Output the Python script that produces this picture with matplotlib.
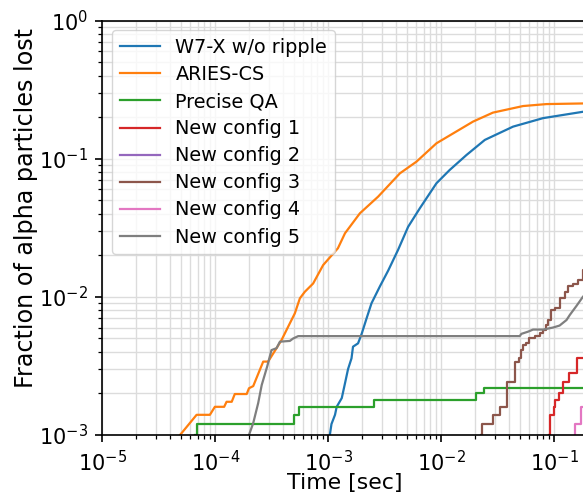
import matplotlib
matplotlib.use("Agg")
import matplotlib.pyplot as plt

# ---- data ----
labels = ["W7-X w/o ripple", "ARIES-CS", "Precise QA", "New config 1",
          "New config 2", "New config 3", "New config 4", "New config 5"]

w7x_t = [1.035e-3, 1.07e-3, 1.15e-3, 1.19e-3, 1.32e-3, 1.41e-3, 1.50e-3, 1.61e-3,
         1.66e-3, 1.84e-3, 1.98e-3, 2.19e-3, 2.42e-3, 2.87e-3, 3.40e-3, 4.16e-3,
         5.11e-3, 6.48e-3, 9.10e-3, 1.19e-2, 1.68e-2, 2.44e-2, 4.34e-2, 8.0e-2, 0.2]
w7x_f = [1.0e-3, 1.2e-3, 1.4e-3, 1.6e-3, 1.85e-3, 2.37e-3, 3.0e-3, 3.59e-3,
         4.36e-3, 4.61e-3, 5.4e-3, 7.0e-3, 8.99e-3, 1.19e-2, 1.55e-2, 2.19e-2,
         3.22e-2, 4.38e-2, 6.65e-2, 8.29e-2, 0.1066, 0.137, 0.171, 0.197, 0.222]

aries_t = [4.88e-5, 6.84e-5, 8.97e-5, 9.93e-5, 1.20e-4, 1.26e-4, 1.40e-4, 1.49e-4,
           1.90e-4, 1.99e-4, 2.17e-4, 2.66e-4, 2.94e-4, 3.49e-4, 3.87e-4, 4.58e-4,
           5.07e-4, 5.62e-4, 6.22e-4, 7.36e-4, 9.03e-4, 1.22e-3, 1.41e-3, 1.91e-3,
           2.77e-3, 4.32e-3, 6.05e-3, 9.10e-3, 1.92e-2, 2.88e-2, 5.32e-2, 8.57e-2, 0.2]
aries_f = [1.0e-3, 1.4e-3, 1.4e-3, 1.6e-3, 1.6e-3, 1.74e-3, 1.74e-3, 1.98e-3,
           1.98e-3, 2.18e-3, 2.26e-3, 3.40e-3, 3.40e-3, 4.25e-3, 4.88e-3, 6.44e-3,
           7.60e-3, 9.77e-3, 1.09e-2, 1.25e-2, 1.70e-2, 2.25e-2, 2.89e-2, 4.03e-2,
           5.32e-2, 7.85e-2, 9.53e-2, 0.1295, 0.186, 0.216, 0.241, 0.249, 0.252]

pqa_t = [6.6e-5, 6.93e-5, 4.97e-4, 5.51e-4, 2.53e-3, 2.03e-2, 2.40e-2, 0.2]
pqa_f = [1.0e-3, 1.2e-3, 1.4e-3, 1.6e-3, 1.8e-3, 2.0e-3, 2.2e-3, 2.2e-3]

new1_t = [9.04e-2, 9.2e-2, 0.099, 0.1014, 0.110, 0.120, 0.135, 0.159, 0.2]
new1_f = [1.0e-3, 1.4e-3, 1.6e-3, 1.8e-3, 2.0e-3, 2.4e-3, 2.8e-3, 3.6e-3, 3.6e-3]

new2_t = []
new2_f = []

new3_t = [2.28e-2, 2.29e-2, 2.88e-2, 3.31e-2, 3.87e-2, 4.20e-2, 4.55e-2, 4.88e-2,
          5.14e-2, 5.32e-2, 5.70e-2, 6.01e-2, 6.75e-2, 7.46e-2, 8.0e-2, 8.57e-2,
          8.85e-2, 9.48e-2, 0.1014, 0.112, 0.1245, 0.133, 0.147, 0.163, 0.18, 0.2]
new3_f = [1.0e-3, 1.2e-3, 1.4e-3, 1.6e-3, 2.4e-3, 2.4e-3, 3.4e-3, 3.6e-3,
          4.1e-3, 4.5e-3, 4.6e-3, 5.0e-3, 5.2e-3, 5.45e-3, 5.76e-3, 6.26e-3,
          6.8e-3, 8.04e-3, 8.27e-3, 9.77e-3, 1.09e-2, 1.19e-2, 1.24e-2, 1.33e-2,
          1.57e-2, 1.8e-2]

new4_t = [0.152, 0.1525, 0.172, 0.2]
new4_f = [1.0e-3, 1.2e-3, 1.6e-3, 1.6e-3]

new5_t = [1.99e-4, 2.17e-4, 2.40e-4, 2.58e-4, 2.88e-4, 3.15e-4, 3.49e-4, 3.74e-4,
          4.58e-4, 4.90e-4, 5.43e-4, 4.97e-2, 5.14e-2, 5.89e-2, 6.52e-2, 8.0e-2,
          9.80e-2, 0.112, 0.129, 0.138, 0.158, 0.18, 0.2]
new5_f = [1.0e-3, 1.22e-3, 1.70e-3, 2.30e-3, 3.12e-3, 4.12e-3, 4.25e-3, 4.74e-3,
          4.8e-3, 5.0e-3, 5.2e-3, 5.2e-3, 5.4e-3, 5.6e-3, 5.8e-3, 5.8e-3,
          6.0e-3, 6.2e-3, 6.8e-3, 7.4e-3, 8.6e-3, 1.0e-2, 1.1e-2]

colors = ["#1f77b4", "#ff7f0e", "#2ca02c", "#d62728",
          "#9467bd", "#8c564b", "#e377c2", "#7f7f7f"]

fig = plt.figure(figsize=(5.83, 4.94), dpi=100)
ax = fig.add_axes([102.3 / 583, 59 / 494, (588 - 102.3) / 583, (435 - 20.7) / 494])

lw = 1.6
ax.plot(w7x_t, w7x_f, color=colors[0], lw=lw, label=labels[0])
ax.plot(aries_t, aries_f, color=colors[1], lw=lw, label=labels[1])
ax.step(pqa_t, pqa_f, where="post", color=colors[2], lw=lw, label=labels[2])
ax.step(new1_t, new1_f, where="post", color=colors[3], lw=lw, label=labels[3])
ax.plot(new2_t, new2_f, color=colors[4], lw=lw, label=labels[4])
ax.step(new3_t, new3_f, where="post", color=colors[5], lw=lw, label=labels[5])
ax.step(new4_t, new4_f, where="post", color=colors[6], lw=lw, label=labels[6])
ax.plot(new5_t, new5_f, color=colors[7], lw=lw, label=labels[7])

ax.set_xscale("log")
ax.set_yscale("log")
ax.set_xlim(1e-5, 0.2)
ax.set_ylim(1e-3, 1)
ax.grid(which="both", color="#dcdcdc", lw=1.0)
ax.set_axisbelow(True)
for s in ax.spines.values():
    s.set_linewidth(1.2)
ax.tick_params(which="major", length=5.25, width=1.2, pad=5.25, labelsize=15)
ax.tick_params(which="minor", length=3.0, width=0.9)
ax.set_xlabel("Time [sec]", fontsize=15.8, labelpad=-1.5)
ax.set_ylabel("Fraction of alpha particles lost", fontsize=17.2)
ax.yaxis.set_label_coords(-0.1324, 0.549)
ax.legend(loc="upper left", fontsize=13.85, framealpha=0.8,
          handlelength=2.1, handletextpad=0.8, labelspacing=0.42,
          borderpad=0.4, borderaxespad=0.5)

fig.savefig("out.png", dpi=100)
